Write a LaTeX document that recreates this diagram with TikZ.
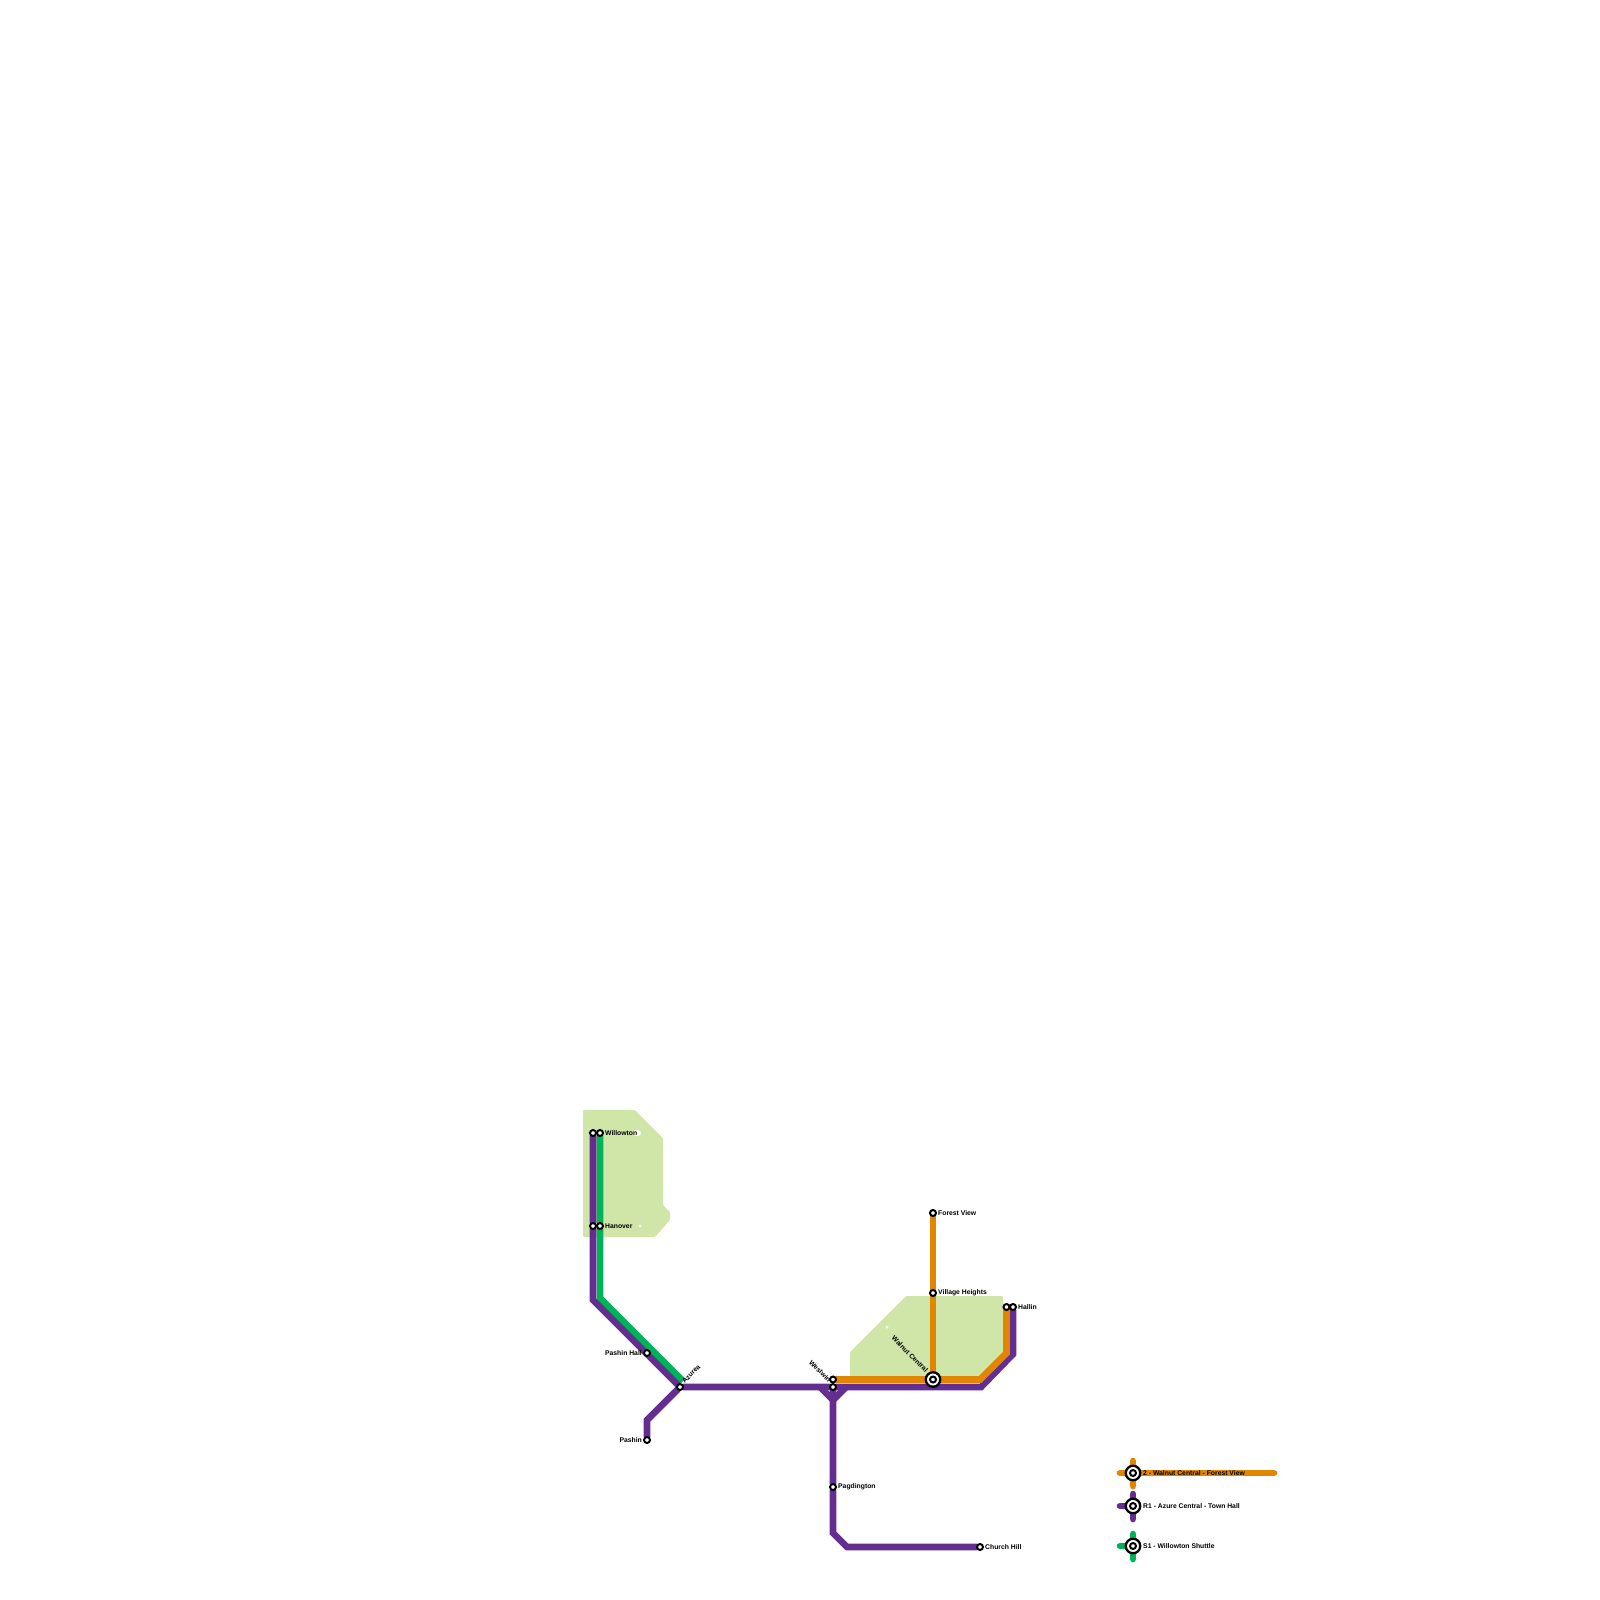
\documentclass[tikz,border=0pt]{standalone}
\usepackage{fontspec}
\setmainfont{Liberation Sans}
\usetikzlibrary{positioning, backgrounds}

\definecolor{lineR}{HTML}{662D91}
\definecolor{lineT}{HTML}{E08600}
\definecolor{lineS}{HTML}{00B358}
\definecolor{parkgreen}{HTML}{D0E6A8}

\begin{document}
\begin{tikzpicture}[
        x=1pt, y=-1pt,
        node distance=2pt,
        station/.style={draw=black, fill=white, circle, line width=2pt, inner sep=0pt, outer sep=0pt, minimum size=6pt},
        hub/.style={draw=black, fill=white, circle, line width=2.3pt, inner sep=0pt, outer sep=0pt, minimum size=14.5pt},
        hubdot/.style={draw=black, fill=white, circle, line width=2pt, inner sep=0pt, outer sep=0pt, minimum size=6pt},
        stn/.style={font=\bfseries\fontsize{6.8}{8}\selectfont, text=black, inner sep=0pt},
        route/.style={line width=6.7pt, line join=miter},
        key/.style={line width=6.7pt, line cap=round},
        park/.style={fill=parkgreen, rounded corners=1.2pt}
    ]
    \useasboundingbox (0,0) rectangle (1600,1600);

    % Stations
    \node[station] (WillowtonR) at (593,1133) {};
    \node[station] (WillowtonS) at (600,1133) {};
    \node[station] (HanoverR) at (593,1226) {};
    \node[station] (HanoverS) at (600,1226) {};
    \node[station] (PashinHall) at (647,1353) {};
    \node[station] (Azurea) at (680,1387) {};
    \node[station] (Pashin) at (647,1440) {};
    \node[station] (WestwinT) at (833,1379.5) {};
    \node[station] (WestwinR) at (833,1387) {};
    \node[station] (Pagdington) at (833,1487) {};
    \node[station] (ChurchHill) at (980,1547) {};
    \node[station] (ForestView) at (933,1213) {};
    \node[station] (VillageHeights) at (933,1293) {};
    \node[hub] (Walnut) at (933,1379.5) {};
    \node[hubdot] (WalnutDot) at (933,1379.5) {};
    \node[station] (HallinT) at (1006.5,1307) {};
    \node[station] (HallinR) at (1013,1307) {};

    % Labels
    \node[stn, right=of WillowtonS] (WillowtonText) {Willowton};
    \node[stn, right=of HanoverS] (HanoverText) {Hanover};
    \node[stn, left=of PashinHall] (PashinHallText) {Pashin Hall};
    \node[stn, left=of Pashin] (PashinText) {Pashin};
    \node[stn, right=of Pagdington] (PagdingtonText) {Pagdington};
    \node[stn, right=of ChurchHill] (ChurchHillText) {Church Hill};
    \node[stn, right=of ForestView] (ForestViewText) {Forest View};
    \node[stn, right=of VillageHeights] (VillageHeightsText) {Village Heights};
    \node[stn, right=of HallinR] (HallinText) {Hallin};
    \node[stn, rotate=45, anchor=west] (AzureaText) at (683,1382) {Azurea};
    \node[stn, rotate=-45, anchor=east] (WestwinText) at (830,1381) {Westwin};
    \node[stn, rotate=-45, anchor=east] (WalnutText) at (927,1371) {Walnut Central};

    % Bends
    \coordinate (bendR1) at (593,1300);
    \coordinate (bendS1) at (600,1298);
    \coordinate (endS) at (683,1381);
    \coordinate (bendP) at (647,1420);
    \coordinate (bendR2) at (981,1387);
    \coordinate (bendR3) at (1013,1354);
    \coordinate (bendT1) at (980,1379.5);
    \coordinate (bendT2) at (1006.5,1353);
    \coordinate (forkL) at (820,1387);
    \coordinate (forkM) at (833,1400);
    \coordinate (forkR) at (846,1387);
    \coordinate (bendC1) at (833,1533);
    \coordinate (bendC2) at (847,1547);

    % Key
    \coordinate (keyTW) at (1120,1473);
    \coordinate (keyTE) at (1274,1473);
    \coordinate (keyTN) at (1133,1461);
    \coordinate (keyTS) at (1133,1486);
    \coordinate (keyRW) at (1120,1506);
    \coordinate (keyRE) at (1137,1506);
    \coordinate (keyRN) at (1133,1494);
    \coordinate (keyRS) at (1133,1519);
    \coordinate (keySW) at (1120,1546);
    \coordinate (keySE) at (1137,1546);
    \coordinate (keySN) at (1133,1534);
    \coordinate (keySS) at (1133,1559);
    \node[hub] (KeyT) at (1133,1473) {};
    \node[hubdot] (KeyTDot) at (1133,1473) {};
    \node[hub] (KeyR) at (1133,1506) {};
    \node[hubdot] (KeyRDot) at (1133,1506) {};
    \node[hub] (KeyS) at (1133,1546) {};
    \node[hubdot] (KeySDot) at (1133,1546) {};
    \node[stn, anchor=west] (KeyTText) at (1143,1473) {2 - Walnut Central - Forest View};
    \node[stn, anchor=west] (KeyRText) at (1143,1506) {R1 - Azure Central - Town Hall};
    \node[stn, anchor=west] (KeySText) at (1143,1546) {S1 - Willowton Shuttle};

    \begin{scope}[on background layer]
    % Parks
    \fill[park] (583,1110) -- (635,1110) -- (663,1138) -- (663,1205) -- (670,1212) -- (670,1220) -- (655,1237) -- (583,1237) -- cycle;
    \fill[park] (850,1352) -- (906,1296) -- (1003,1296) -- (1003,1352) -- (978,1378) -- (850,1378) -- cycle;
    \fill[white] (637,1133) ellipse (4 and 3);
    \fill[white] (640,1226) circle (1.5);
    \fill[white] (887,1327) circle (1.5);

    % Routes
    \draw[route, lineS] (WillowtonS) -- (HanoverS) -- (bendS1) -- (endS);
    \draw[route, lineR] (WillowtonR) -- (HanoverR) -- (bendR1) -- (Azurea);
    \draw[route, lineR] (Azurea) -- (bendP) -- (Pashin);
    \draw[route, lineR] (Azurea) -- (WestwinR) -- (bendR2) -- (bendR3) -- (HallinR);
    \draw[route, lineR] (forkL) -- (forkM) -- (forkR);
    \draw[route, lineR] (WestwinR) -- (forkM) -- (Pagdington) -- (bendC1) -- (bendC2) -- (ChurchHill);
    \draw[route, lineT] (WestwinT) -- (Walnut) -- (bendT1) -- (bendT2) -- (HallinT);
    \draw[route, lineT] (ForestView) -- (VillageHeights) -- (Walnut);

    % Key lines
    \draw[key, lineT] (keyTW) -- (keyTE);
    \draw[key, lineT] (keyTN) -- (keyTS);
    \draw[key, lineR] (keyRW) -- (keyRE);
    \draw[key, lineR] (keyRN) -- (keyRS);
    \draw[key, lineS] (keySW) -- (keySE);
    \draw[key, lineS] (keySN) -- (keySS);
    \end{scope}

\end{tikzpicture}
\end{document}
